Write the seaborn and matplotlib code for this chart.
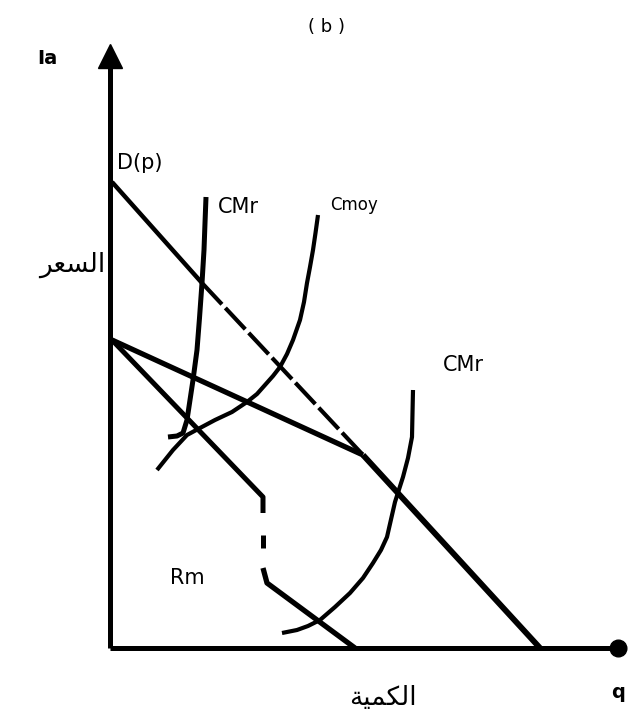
import matplotlib
matplotlib.use("Agg")
import matplotlib.pyplot as plt
import seaborn as sns

sns.set_theme(style="white")
plt.rcParams['font.family'] = ['DejaVu Sans']
plt.rcParams['text.color'] = 'black'

# demande coudee (q, prix)
demand_top_q = [0.04, 1.84]
demand_top_p = [9.32, 7.30]
demand_mid_q = [1.84, 5.06]
demand_mid_p = [7.30, 3.86]
demand_low_q = [5.06, 8.60]
demand_low_p = [3.86, 0.00]
flat_q = [0.04, 5.06]
flat_p = [6.16, 3.86]

# recette marginale Rm (avec discontinuite)
rm1_q = [0.04, 3.06, 3.06]
rm1_p = [6.16, 3.02, 2.70]
rm_gap_q = [3.06, 3.06]
rm_gap_p = [2.26, 2.00]
rm2_q = [3.06, 3.14, 4.90]
rm2_p = [1.60, 1.30, 0.00]

# couts
cmr1_q = [1.92, 1.90, 1.88, 1.84, 1.79, 1.74, 1.66, 1.54, 1.46, 1.34, 1.16]
cmr1_p = [9.02, 8.50, 7.96, 7.30, 6.60, 5.96, 5.36, 4.56, 4.30, 4.24, 4.22]
cmoy_q = [0.94, 1.10, 1.26, 1.54, 1.80, 2.10, 2.44, 2.74, 2.94, 3.10, 3.26,
          3.40, 3.54, 3.66, 3.80, 3.88, 3.94, 4.00, 4.06, 4.11, 4.16]
cmoy_p = [3.56, 3.76, 3.96, 4.26, 4.40, 4.56, 4.72, 4.92, 5.08, 5.26, 5.44,
          5.62, 5.88, 6.16, 6.56, 6.92, 7.30, 7.62, 7.96, 8.30, 8.66]
cmr2_q = [6.06, 6.05, 6.04, 5.96, 5.86, 5.70, 5.54, 5.42, 5.26, 5.06, 4.80,
          4.50, 4.20, 3.96, 3.74, 3.44]
cmr2_p = [5.16, 4.70, 4.22, 3.80, 3.42, 2.92, 2.22, 1.96, 1.70, 1.40, 1.10,
          0.82, 0.56, 0.44, 0.36, 0.30]

y_top = 12.1
x_end = 10.16

# texte arabe en formes de presentation (matplotlib ne fait pas le shaping)
price_ar = "\uFEAE\uFECC\uFEB4\uFEDF\uFE8D"      # السعر
qty_ar = "\uFE94\uFEF4\uFEE4\uFEDC\uFEDF\uFE8D"   # الكمية

fig = plt.figure(figsize=(6.31, 7.2), dpi=100)
ax = fig.add_axes([0, 0, 1, 1])


def seg(q, p, lw, ls='-'):
    sns.lineplot(x=q, y=p, sort=False, estimator=None, color='black',
                 linewidth=lw, linestyle=ls, ax=ax,
                 solid_capstyle='butt', solid_joinstyle='round')


# axes
seg([0, 0], [0, y_top - 0.4], 3.6)
seg([0, x_end], [0, 0], 3.6)
ax.plot([0], [y_top - 0.25], marker='^', ms=17, color='black')
ax.plot([x_end], [0], marker='o', ms=12, color='black')

# courbes
seg(demand_top_q, demand_top_p, 3.2)
seg(demand_mid_q, demand_mid_p, 3.0, ls=(0, (7, 1.2)))
seg(demand_low_q, demand_low_p, 4.2)
seg(flat_q, flat_p, 3.8)
seg(rm1_q, rm1_p, 3.6)
seg(rm_gap_q, rm_gap_p, 3.6)
seg(rm2_q, rm2_p, 3.8)
seg(cmr1_q, cmr1_p, 3.6)
seg(cmoy_q, cmoy_p, 3.0)
seg(cmr2_q, cmr2_p, 3.0)

# textes
ax.text(4.34, 12.42, "( b )", fontsize=13, ha='center', va='center', color='black')
ax.text(-1.26, 11.8, "Ia", fontsize=14, fontweight='bold', ha='center', va='center', color='black')
ax.text(0.14, 9.7, "D(p)", fontsize=15, ha='left', va='center', color='black')
ax.text(-0.1, 7.66, price_ar, fontsize=19, ha='right', va='center', color='black')
ax.text(2.16, 8.82, "CMr", fontsize=15, ha='left', va='center', color='black')
ax.text(4.4, 8.86, "Cmoy", fontsize=12, ha='left', va='center', color='black')
ax.text(6.66, 5.66, "CMr", fontsize=15, ha='left', va='center', color='black')
ax.text(1.54, 1.4, "Rm", fontsize=15, ha='center', va='center', color='black')
ax.text(5.46, -1.0, qty_ar, fontsize=19, ha='center', va='center', color='black')
ax.text(10.16, -0.88, "q", fontsize=14, fontweight='bold', ha='center', va='center', color='black')

ax.set_xlim(-2.2, 10.42)
ax.set_ylim(-1.44, 12.96)
ax.axis('off')

fig.savefig("out.png", dpi=100)
